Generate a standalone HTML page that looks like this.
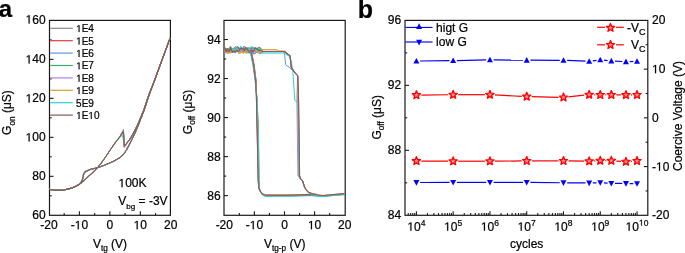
<!DOCTYPE html>
<html><head><meta charset="utf-8"><title>figure</title><style>
html,body{margin:0;padding:0;background:#fff;}
body{width:685px;height:253px;overflow:hidden;}
svg{display:block;font-family:"Liberation Sans", sans-serif;will-change:transform;}
text{fill:#000;stroke:#000;stroke-width:0.22px;}
</style></head><body>
<svg width="685" height="253" viewBox="0 0 685 253" xmlns="http://www.w3.org/2000/svg">
<rect x="49.50" y="20.40" width="120.90" height="194.90" fill="none" stroke="#1a1a1a" stroke-width="1.2"/>
<line x1="64.17" y1="215.30" x2="64.17" y2="213.10" stroke="#1a1a1a" stroke-width="1.1"/>
<line x1="79.40" y1="215.30" x2="79.40" y2="211.30" stroke="#1a1a1a" stroke-width="1.1"/>
<line x1="94.62" y1="215.30" x2="94.62" y2="213.10" stroke="#1a1a1a" stroke-width="1.1"/>
<line x1="109.85" y1="215.30" x2="109.85" y2="211.30" stroke="#1a1a1a" stroke-width="1.1"/>
<line x1="125.07" y1="215.30" x2="125.07" y2="213.10" stroke="#1a1a1a" stroke-width="1.1"/>
<line x1="140.30" y1="215.30" x2="140.30" y2="211.30" stroke="#1a1a1a" stroke-width="1.1"/>
<line x1="155.52" y1="215.30" x2="155.52" y2="213.10" stroke="#1a1a1a" stroke-width="1.1"/>
<line x1="49.50" y1="195.81" x2="51.70" y2="195.81" stroke="#1a1a1a" stroke-width="1.1"/>
<line x1="49.50" y1="176.32" x2="53.50" y2="176.32" stroke="#1a1a1a" stroke-width="1.1"/>
<line x1="49.50" y1="156.83" x2="51.70" y2="156.83" stroke="#1a1a1a" stroke-width="1.1"/>
<line x1="49.50" y1="137.34" x2="53.50" y2="137.34" stroke="#1a1a1a" stroke-width="1.1"/>
<line x1="49.50" y1="117.85" x2="51.70" y2="117.85" stroke="#1a1a1a" stroke-width="1.1"/>
<line x1="49.50" y1="98.36" x2="53.50" y2="98.36" stroke="#1a1a1a" stroke-width="1.1"/>
<line x1="49.50" y1="78.87" x2="51.70" y2="78.87" stroke="#1a1a1a" stroke-width="1.1"/>
<line x1="49.50" y1="59.38" x2="53.50" y2="59.38" stroke="#1a1a1a" stroke-width="1.1"/>
<line x1="49.50" y1="39.89" x2="51.70" y2="39.89" stroke="#1a1a1a" stroke-width="1.1"/>
<text x="48.95" y="229.20" font-size="12" text-anchor="middle" >-20</text>
<text class="n1" x="79.40" y="229.20" font-size="12" text-anchor="middle" >- 0</text>
<text x="109.85" y="229.20" font-size="12" text-anchor="middle" >0</text>
<text class="n1" x="140.30" y="229.20" font-size="12" text-anchor="middle" > 0</text>
<text x="170.75" y="229.20" font-size="12" text-anchor="middle" >20</text>
<text x="45.60" y="219.00" font-size="12" text-anchor="end" >60</text>
<text x="45.60" y="180.42" font-size="12" text-anchor="end" >80</text>
<text class="n1" x="45.60" y="141.44" font-size="12" text-anchor="end" > 00</text>
<text class="n1" x="45.60" y="102.46" font-size="12" text-anchor="end" > 20</text>
<text class="n1" x="45.60" y="63.48" font-size="12" text-anchor="end" > 40</text>
<text class="n1" x="45.60" y="23.50" font-size="12" text-anchor="end" > 60</text>
<rect x="224.00" y="20.40" width="121.20" height="194.90" fill="none" stroke="#1a1a1a" stroke-width="1.2"/>
<line x1="239.35" y1="215.30" x2="239.35" y2="213.10" stroke="#1a1a1a" stroke-width="1.1"/>
<line x1="254.40" y1="215.30" x2="254.40" y2="211.30" stroke="#1a1a1a" stroke-width="1.1"/>
<line x1="269.45" y1="215.30" x2="269.45" y2="213.10" stroke="#1a1a1a" stroke-width="1.1"/>
<line x1="284.50" y1="215.30" x2="284.50" y2="211.30" stroke="#1a1a1a" stroke-width="1.1"/>
<line x1="299.55" y1="215.30" x2="299.55" y2="213.10" stroke="#1a1a1a" stroke-width="1.1"/>
<line x1="314.60" y1="215.30" x2="314.60" y2="211.30" stroke="#1a1a1a" stroke-width="1.1"/>
<line x1="329.65" y1="215.30" x2="329.65" y2="213.10" stroke="#1a1a1a" stroke-width="1.1"/>
<line x1="224.00" y1="195.60" x2="228.00" y2="195.60" stroke="#1a1a1a" stroke-width="1.1"/>
<line x1="224.00" y1="176.09" x2="226.20" y2="176.09" stroke="#1a1a1a" stroke-width="1.1"/>
<line x1="224.00" y1="156.58" x2="228.00" y2="156.58" stroke="#1a1a1a" stroke-width="1.1"/>
<line x1="224.00" y1="137.07" x2="226.20" y2="137.07" stroke="#1a1a1a" stroke-width="1.1"/>
<line x1="224.00" y1="117.56" x2="228.00" y2="117.56" stroke="#1a1a1a" stroke-width="1.1"/>
<line x1="224.00" y1="98.05" x2="226.20" y2="98.05" stroke="#1a1a1a" stroke-width="1.1"/>
<line x1="224.00" y1="78.54" x2="228.00" y2="78.54" stroke="#1a1a1a" stroke-width="1.1"/>
<line x1="224.00" y1="59.03" x2="226.20" y2="59.03" stroke="#1a1a1a" stroke-width="1.1"/>
<line x1="224.00" y1="39.52" x2="228.00" y2="39.52" stroke="#1a1a1a" stroke-width="1.1"/>
<text x="224.30" y="229.20" font-size="12" text-anchor="middle" >-20</text>
<text class="n1" x="254.40" y="229.20" font-size="12" text-anchor="middle" >- 0</text>
<text x="284.50" y="229.20" font-size="12" text-anchor="middle" >0</text>
<text class="n1" x="314.60" y="229.20" font-size="12" text-anchor="middle" > 0</text>
<text x="344.70" y="229.20" font-size="12" text-anchor="middle" >20</text>
<text x="220.60" y="199.70" font-size="12" text-anchor="end" >86</text>
<text x="220.60" y="160.68" font-size="12" text-anchor="end" >88</text>
<text x="220.60" y="121.66" font-size="12" text-anchor="end" >90</text>
<text x="220.60" y="82.64" font-size="12" text-anchor="end" >92</text>
<text x="220.60" y="43.62" font-size="12" text-anchor="end" >94</text>
<rect x="405.00" y="20.40" width="242.80" height="194.90" fill="none" stroke="#1a1a1a" stroke-width="1.2"/>
<line x1="408.24" y1="215.30" x2="408.24" y2="213.10" stroke="#1a1a1a" stroke-width="1.1"/>
<line x1="410.70" y1="215.30" x2="410.70" y2="213.10" stroke="#1a1a1a" stroke-width="1.1"/>
<line x1="412.84" y1="215.30" x2="412.84" y2="213.10" stroke="#1a1a1a" stroke-width="1.1"/>
<line x1="414.72" y1="215.30" x2="414.72" y2="213.10" stroke="#1a1a1a" stroke-width="1.1"/>
<line x1="416.40" y1="215.30" x2="416.40" y2="211.30" stroke="#1a1a1a" stroke-width="1.1"/>
<line x1="427.47" y1="215.30" x2="427.47" y2="213.10" stroke="#1a1a1a" stroke-width="1.1"/>
<line x1="433.94" y1="215.30" x2="433.94" y2="213.10" stroke="#1a1a1a" stroke-width="1.1"/>
<line x1="438.54" y1="215.30" x2="438.54" y2="213.10" stroke="#1a1a1a" stroke-width="1.1"/>
<line x1="442.10" y1="215.30" x2="442.10" y2="213.10" stroke="#1a1a1a" stroke-width="1.1"/>
<line x1="445.01" y1="215.30" x2="445.01" y2="213.10" stroke="#1a1a1a" stroke-width="1.1"/>
<line x1="447.47" y1="215.30" x2="447.47" y2="213.10" stroke="#1a1a1a" stroke-width="1.1"/>
<line x1="449.61" y1="215.30" x2="449.61" y2="213.10" stroke="#1a1a1a" stroke-width="1.1"/>
<line x1="451.49" y1="215.30" x2="451.49" y2="213.10" stroke="#1a1a1a" stroke-width="1.1"/>
<line x1="453.17" y1="215.30" x2="453.17" y2="211.30" stroke="#1a1a1a" stroke-width="1.1"/>
<line x1="464.24" y1="215.30" x2="464.24" y2="213.10" stroke="#1a1a1a" stroke-width="1.1"/>
<line x1="470.71" y1="215.30" x2="470.71" y2="213.10" stroke="#1a1a1a" stroke-width="1.1"/>
<line x1="475.31" y1="215.30" x2="475.31" y2="213.10" stroke="#1a1a1a" stroke-width="1.1"/>
<line x1="478.87" y1="215.30" x2="478.87" y2="213.10" stroke="#1a1a1a" stroke-width="1.1"/>
<line x1="481.78" y1="215.30" x2="481.78" y2="213.10" stroke="#1a1a1a" stroke-width="1.1"/>
<line x1="484.24" y1="215.30" x2="484.24" y2="213.10" stroke="#1a1a1a" stroke-width="1.1"/>
<line x1="486.38" y1="215.30" x2="486.38" y2="213.10" stroke="#1a1a1a" stroke-width="1.1"/>
<line x1="488.26" y1="215.30" x2="488.26" y2="213.10" stroke="#1a1a1a" stroke-width="1.1"/>
<line x1="489.94" y1="215.30" x2="489.94" y2="211.30" stroke="#1a1a1a" stroke-width="1.1"/>
<line x1="501.01" y1="215.30" x2="501.01" y2="213.10" stroke="#1a1a1a" stroke-width="1.1"/>
<line x1="507.48" y1="215.30" x2="507.48" y2="213.10" stroke="#1a1a1a" stroke-width="1.1"/>
<line x1="512.08" y1="215.30" x2="512.08" y2="213.10" stroke="#1a1a1a" stroke-width="1.1"/>
<line x1="515.64" y1="215.30" x2="515.64" y2="213.10" stroke="#1a1a1a" stroke-width="1.1"/>
<line x1="518.55" y1="215.30" x2="518.55" y2="213.10" stroke="#1a1a1a" stroke-width="1.1"/>
<line x1="521.01" y1="215.30" x2="521.01" y2="213.10" stroke="#1a1a1a" stroke-width="1.1"/>
<line x1="523.15" y1="215.30" x2="523.15" y2="213.10" stroke="#1a1a1a" stroke-width="1.1"/>
<line x1="525.03" y1="215.30" x2="525.03" y2="213.10" stroke="#1a1a1a" stroke-width="1.1"/>
<line x1="526.71" y1="215.30" x2="526.71" y2="211.30" stroke="#1a1a1a" stroke-width="1.1"/>
<line x1="537.78" y1="215.30" x2="537.78" y2="213.10" stroke="#1a1a1a" stroke-width="1.1"/>
<line x1="544.25" y1="215.30" x2="544.25" y2="213.10" stroke="#1a1a1a" stroke-width="1.1"/>
<line x1="548.85" y1="215.30" x2="548.85" y2="213.10" stroke="#1a1a1a" stroke-width="1.1"/>
<line x1="552.41" y1="215.30" x2="552.41" y2="213.10" stroke="#1a1a1a" stroke-width="1.1"/>
<line x1="555.32" y1="215.30" x2="555.32" y2="213.10" stroke="#1a1a1a" stroke-width="1.1"/>
<line x1="557.78" y1="215.30" x2="557.78" y2="213.10" stroke="#1a1a1a" stroke-width="1.1"/>
<line x1="559.92" y1="215.30" x2="559.92" y2="213.10" stroke="#1a1a1a" stroke-width="1.1"/>
<line x1="561.80" y1="215.30" x2="561.80" y2="213.10" stroke="#1a1a1a" stroke-width="1.1"/>
<line x1="563.48" y1="215.30" x2="563.48" y2="211.30" stroke="#1a1a1a" stroke-width="1.1"/>
<line x1="574.55" y1="215.30" x2="574.55" y2="213.10" stroke="#1a1a1a" stroke-width="1.1"/>
<line x1="581.02" y1="215.30" x2="581.02" y2="213.10" stroke="#1a1a1a" stroke-width="1.1"/>
<line x1="585.62" y1="215.30" x2="585.62" y2="213.10" stroke="#1a1a1a" stroke-width="1.1"/>
<line x1="589.18" y1="215.30" x2="589.18" y2="213.10" stroke="#1a1a1a" stroke-width="1.1"/>
<line x1="592.09" y1="215.30" x2="592.09" y2="213.10" stroke="#1a1a1a" stroke-width="1.1"/>
<line x1="594.55" y1="215.30" x2="594.55" y2="213.10" stroke="#1a1a1a" stroke-width="1.1"/>
<line x1="596.69" y1="215.30" x2="596.69" y2="213.10" stroke="#1a1a1a" stroke-width="1.1"/>
<line x1="598.57" y1="215.30" x2="598.57" y2="213.10" stroke="#1a1a1a" stroke-width="1.1"/>
<line x1="600.25" y1="215.30" x2="600.25" y2="211.30" stroke="#1a1a1a" stroke-width="1.1"/>
<line x1="611.32" y1="215.30" x2="611.32" y2="213.10" stroke="#1a1a1a" stroke-width="1.1"/>
<line x1="617.79" y1="215.30" x2="617.79" y2="213.10" stroke="#1a1a1a" stroke-width="1.1"/>
<line x1="622.39" y1="215.30" x2="622.39" y2="213.10" stroke="#1a1a1a" stroke-width="1.1"/>
<line x1="625.95" y1="215.30" x2="625.95" y2="213.10" stroke="#1a1a1a" stroke-width="1.1"/>
<line x1="628.86" y1="215.30" x2="628.86" y2="213.10" stroke="#1a1a1a" stroke-width="1.1"/>
<line x1="631.32" y1="215.30" x2="631.32" y2="213.10" stroke="#1a1a1a" stroke-width="1.1"/>
<line x1="633.46" y1="215.30" x2="633.46" y2="213.10" stroke="#1a1a1a" stroke-width="1.1"/>
<line x1="635.34" y1="215.30" x2="635.34" y2="213.10" stroke="#1a1a1a" stroke-width="1.1"/>
<line x1="637.02" y1="215.30" x2="637.02" y2="211.30" stroke="#1a1a1a" stroke-width="1.1"/>
<line x1="405.00" y1="182.82" x2="407.20" y2="182.82" stroke="#1a1a1a" stroke-width="1.1"/>
<line x1="405.00" y1="150.33" x2="409.00" y2="150.33" stroke="#1a1a1a" stroke-width="1.1"/>
<line x1="405.00" y1="117.85" x2="407.20" y2="117.85" stroke="#1a1a1a" stroke-width="1.1"/>
<line x1="405.00" y1="85.37" x2="409.00" y2="85.37" stroke="#1a1a1a" stroke-width="1.1"/>
<line x1="405.00" y1="52.88" x2="407.20" y2="52.88" stroke="#1a1a1a" stroke-width="1.1"/>
<line x1="647.80" y1="190.94" x2="645.60" y2="190.94" stroke="#1a1a1a" stroke-width="1.1"/>
<line x1="647.80" y1="166.58" x2="643.80" y2="166.58" stroke="#1a1a1a" stroke-width="1.1"/>
<line x1="647.80" y1="142.21" x2="645.60" y2="142.21" stroke="#1a1a1a" stroke-width="1.1"/>
<line x1="647.80" y1="117.85" x2="643.80" y2="117.85" stroke="#1a1a1a" stroke-width="1.1"/>
<line x1="647.80" y1="93.49" x2="645.60" y2="93.49" stroke="#1a1a1a" stroke-width="1.1"/>
<line x1="647.80" y1="69.12" x2="643.80" y2="69.12" stroke="#1a1a1a" stroke-width="1.1"/>
<line x1="647.80" y1="44.76" x2="645.60" y2="44.76" stroke="#1a1a1a" stroke-width="1.1"/>
<text x="401.20" y="219.00" font-size="12" text-anchor="end" >84</text>
<text x="401.20" y="154.43" font-size="12" text-anchor="end" >88</text>
<text x="401.20" y="89.47" font-size="12" text-anchor="end" >92</text>
<text x="401.20" y="23.60" font-size="12" text-anchor="end" >96</text>
<text x="652.00" y="218.90" font-size="12" text-anchor="start" >-20</text>
<text class="n1" x="652.00" y="170.68" font-size="12" text-anchor="start" >- 0</text>
<text x="652.00" y="121.95" font-size="12" text-anchor="start" >0</text>
<text class="n1" x="652.00" y="73.22" font-size="12" text-anchor="start" > 0</text>
<text x="652.00" y="23.50" font-size="12" text-anchor="start" >20</text>
<text class="n1" x="416.40" y="230.70" font-size="12" text-anchor="middle"> 0<tspan font-size="8.5" dy="-5">4</tspan></text>
<text class="n1" x="453.17" y="230.70" font-size="12" text-anchor="middle"> 0<tspan font-size="8.5" dy="-5">5</tspan></text>
<text class="n1" x="489.94" y="230.70" font-size="12" text-anchor="middle"> 0<tspan font-size="8.5" dy="-5">6</tspan></text>
<text class="n1" x="526.71" y="230.70" font-size="12" text-anchor="middle"> 0<tspan font-size="8.5" dy="-5">7</tspan></text>
<text class="n1" x="563.48" y="230.70" font-size="12" text-anchor="middle"> 0<tspan font-size="8.5" dy="-5">8</tspan></text>
<text class="n1" x="600.25" y="230.70" font-size="12" text-anchor="middle"> 0<tspan font-size="8.5" dy="-5">9</tspan></text>
<text class="n1" x="637.02" y="230.70" font-size="12" text-anchor="middle"> 0<tspan font-size="8.5" dy="-5"> 0</tspan></text>
<text x="-1.2" y="17.0" font-size="24" font-weight="bold">a</text>
<text x="357.7" y="17.8" font-size="25" font-weight="bold">b</text>
<text transform="translate(11.40,134.90) rotate(-90)" font-size="12">G<tspan font-size="8.2" dy="3.3">on</tspan><tspan dy="-3.3"> (μS)</tspan></text>
<text transform="translate(191.60,134.20) rotate(-90)" font-size="12">G<tspan font-size="8.2" dy="3.3">off</tspan><tspan dy="-3.3"> (μS)</tspan></text>
<text transform="translate(380.70,139.60) rotate(-90)" font-size="12">G<tspan font-size="8.2" dy="3.3">off</tspan><tspan dy="-3.3"> (μS)</tspan></text>
<text transform="translate(682.4,171.0) rotate(-90)" font-size="12">Coercive Voltage (V)</text>
<text x="92.9" y="247.9" font-size="12">V<tspan font-size="8.2" dy="3.2">tg</tspan><tspan dy="-3.2"> (V)</tspan></text>
<text x="264.0" y="247.9" font-size="12">V<tspan font-size="8.2" dy="3.4">tg-p</tspan><tspan dy="-3.4"> (V)</tspan></text>
<text x="526.70" y="248.00" font-size="12" text-anchor="middle" >cycles</text>
<text class="n1" x="118.50" y="187.20" font-size="12" text-anchor="start" > 00K</text>
<text x="118.2" y="204.9" font-size="12">V<tspan font-size="8.1" dy="4.0">bg</tspan><tspan dy="-4.0"> = -3V</tspan></text>
<line x1="50.20" y1="28.30" x2="72.80" y2="28.30" stroke="#8a8a8a" stroke-width="1.2"/>
<text class="n1" x="76.10" y="32.10" font-size="10" text-anchor="start" > E4</text>
<line x1="50.20" y1="40.70" x2="72.80" y2="40.70" stroke="#e8383c" stroke-width="1.2"/>
<text class="n1" x="76.10" y="44.50" font-size="10" text-anchor="start" > E5</text>
<line x1="50.20" y1="53.10" x2="72.80" y2="53.10" stroke="#5a96ea" stroke-width="1.2"/>
<text class="n1" x="76.10" y="56.90" font-size="10" text-anchor="start" > E6</text>
<line x1="50.20" y1="65.50" x2="72.80" y2="65.50" stroke="#3aac64" stroke-width="1.2"/>
<text class="n1" x="76.10" y="69.30" font-size="10" text-anchor="start" > E7</text>
<line x1="50.20" y1="77.90" x2="72.80" y2="77.90" stroke="#b47cf0" stroke-width="1.2"/>
<text class="n1" x="76.10" y="81.70" font-size="10" text-anchor="start" > E8</text>
<line x1="50.20" y1="90.30" x2="72.80" y2="90.30" stroke="#d4a22a" stroke-width="1.2"/>
<text class="n1" x="76.10" y="94.10" font-size="10" text-anchor="start" > E9</text>
<line x1="50.20" y1="102.70" x2="72.80" y2="102.70" stroke="#2ed2d2" stroke-width="1.2"/>
<text x="76.10" y="106.50" font-size="10" text-anchor="start" >5E9</text>
<line x1="50.20" y1="115.10" x2="72.80" y2="115.10" stroke="#8b5a56" stroke-width="1.2"/>
<text class="n1" x="76.10" y="118.90" font-size="10" text-anchor="start" > E 0</text>
<polyline points="49.50,189.40 52.00,189.80 55.00,190.00 58.00,190.20 61.00,190.20 65.00,189.70 70.00,188.60 75.00,186.70 78.00,185.00 80.90,182.60 82.70,179.00 83.90,173.40 85.70,171.50 90.40,169.40 95.10,168.30 97.50,167.70 103.00,165.80 108.80,163.40 114.00,161.00 118.00,158.70 120.50,157.20 122.70,155.20 124.80,152.50 126.40,150.00 128.90,145.50 131.70,140.00 135.20,132.50 138.30,125.20 144.20,110.00 149.10,95.00 154.80,80.00 160.30,64.80 165.20,51.30 170.10,38.00" fill="none" stroke="#8a8a8a" stroke-width="1.0" stroke-linejoin="round" />
<polyline points="49.50,189.40 52.00,189.80 55.00,190.00 58.00,190.20 61.00,190.20 65.00,189.70 70.00,188.60 75.00,186.70 78.00,185.00 80.90,182.60 82.70,179.00 83.90,173.40 85.70,171.50 90.40,169.40 95.10,168.30 97.50,167.70 103.00,165.80 108.80,163.40 114.00,161.00 118.00,158.70 120.50,157.20 122.70,155.20 124.80,152.50 126.40,150.00 128.90,145.50 131.70,140.00 135.20,132.50 138.30,125.20 144.20,110.00 149.10,95.00 154.80,80.00 160.30,64.80 165.20,51.30 170.10,38.00" fill="none" stroke="#e8383c" stroke-width="1.0" stroke-linejoin="round" />
<polyline points="49.50,189.40 52.00,189.80 55.00,190.00 58.00,190.20 61.00,190.20 65.00,189.70 70.00,188.60 75.00,186.70 78.00,185.00 80.90,182.60 82.70,179.00 83.70,172.70 85.60,170.80 90.40,169.40 95.10,168.30 97.50,167.70 103.00,165.80 108.80,163.40 114.00,161.00 118.00,158.70 120.50,157.20 122.70,155.20 124.80,152.50 126.40,150.00 128.90,145.50 131.70,140.00 135.20,132.50 138.30,125.20 144.20,110.00 149.10,95.00 154.80,80.00 160.30,64.80 165.20,51.30 170.10,38.00" fill="none" stroke="#5a96ea" stroke-width="1.0" stroke-linejoin="round" />
<polyline points="49.50,189.40 52.00,189.80 55.00,190.00 58.00,190.20 61.00,190.20 65.00,189.70 70.00,188.60 75.00,186.70 78.00,185.00 80.90,182.60 82.70,179.00 83.90,173.40 85.70,171.50 90.40,169.40 95.10,168.30 97.50,167.70 103.00,165.80 108.80,163.40 114.00,161.00 118.00,158.70 120.50,157.20 122.70,155.20 124.80,152.50 126.40,150.00 128.90,145.50 131.70,140.00 135.20,132.50 138.30,125.20 144.20,110.00 149.10,95.00 154.80,80.00 160.30,64.80 165.20,51.30 170.10,38.00" fill="none" stroke="#3aac64" stroke-width="1.0" stroke-linejoin="round" />
<polyline points="49.50,189.40 52.00,189.80 55.00,190.00 58.00,190.20 61.00,190.20 65.00,189.70 70.00,188.60 75.00,186.70 78.00,185.00 80.90,182.60 82.70,179.00 83.90,173.40 85.70,171.50 90.40,169.40 95.10,168.30 97.50,167.70 103.00,165.80 108.80,163.40 114.00,161.00 118.00,158.70 120.50,157.20 122.70,155.20 124.80,152.50 126.40,150.00 128.90,145.50 131.70,140.00 135.20,132.50 138.30,125.20 144.20,110.00 149.10,95.00 154.80,80.00 160.30,64.80 165.20,51.30 170.10,38.00" fill="none" stroke="#b47cf0" stroke-width="1.0" stroke-linejoin="round" />
<polyline points="49.50,189.40 52.00,189.80 55.00,190.00 58.00,190.20 61.00,190.20 65.00,189.70 70.00,188.60 75.00,186.70 78.00,185.00 80.90,182.60 82.70,179.00 83.90,173.40 85.70,171.50 90.40,169.40 95.10,168.30 97.50,167.70 103.00,165.80 108.80,163.40 114.00,161.00 118.00,158.70 120.50,157.20 122.70,155.20 124.80,152.50 126.40,150.00 128.90,145.50 131.70,140.00 135.20,132.50 138.30,125.20 144.20,110.00 149.10,95.00 154.80,80.00 160.30,64.80 165.20,51.30 170.10,38.00" fill="none" stroke="#d4a22a" stroke-width="1.0" stroke-linejoin="round" />
<polyline points="49.50,189.40 52.00,189.80 55.00,190.00 58.00,190.20 61.00,190.20 65.00,189.70 70.00,188.60 75.00,186.70 78.00,185.00 80.90,182.60 82.20,179.20 83.30,173.80 85.70,171.50 90.40,169.40 95.10,168.30 97.50,167.70 103.00,165.80 108.80,163.40 114.00,161.00 118.00,158.70 120.50,157.20 122.70,155.20 124.80,152.50 126.40,150.00 128.90,145.50 131.70,140.00 135.20,132.50 138.30,125.20 144.20,110.00 149.10,95.00 154.80,80.00 160.30,64.80 165.20,51.30 170.10,38.00" fill="none" stroke="#2ed2d2" stroke-width="1.0" stroke-linejoin="round" />
<polyline points="49.50,189.40 52.00,189.80 55.00,190.00 58.00,190.20 61.00,190.20 65.00,189.70 70.00,188.60 75.00,186.70 78.00,185.20 80.90,183.20 83.50,181.00 86.80,177.80 92.80,172.50 97.50,167.70 100.00,164.70 105.00,157.80 110.00,150.20 113.40,145.30 116.50,141.00 119.50,137.30 123.40,130.80 124.30,146.20 129.40,140.00 133.60,132.80 137.50,125.20 143.80,110.00 148.80,95.00 154.60,80.00 160.20,64.80 165.20,51.30 170.10,38.00" fill="none" stroke="#8a8a8a" stroke-width="1.0" stroke-linejoin="round" />
<polyline points="49.50,189.40 52.00,189.80 55.00,190.00 58.00,190.20 61.00,190.20 65.00,189.70 70.00,188.60 75.00,186.70 78.00,185.20 80.90,183.20 83.50,181.00 86.80,177.80 92.80,172.50 97.50,167.70 100.00,164.70 105.00,157.80 110.00,150.20 113.40,145.30 116.50,141.00 119.50,137.30 123.40,130.80 124.30,146.20 129.40,140.00 133.60,132.80 137.50,125.20 143.80,110.00 148.80,95.00 154.60,80.00 160.20,64.80 165.20,51.30 170.10,38.00" fill="none" stroke="#e8383c" stroke-width="1.0" stroke-linejoin="round" />
<polyline points="49.50,189.40 52.00,189.80 55.00,190.00 58.00,190.20 61.00,190.20 65.00,189.70 70.00,188.60 75.00,186.70 78.00,185.20 80.90,183.20 83.50,181.00 86.80,177.80 92.80,172.50 97.50,167.70 100.00,164.70 105.00,157.80 110.00,150.20 113.40,145.30 116.50,141.00 119.50,137.30 123.50,129.30 124.30,146.20 129.40,140.00 133.60,132.80 137.50,125.20 143.80,110.00 148.80,95.00 154.60,80.00 160.20,64.80 165.20,51.30 170.10,38.00" fill="none" stroke="#5a96ea" stroke-width="1.0" stroke-linejoin="round" />
<polyline points="49.50,189.40 52.00,189.80 55.00,190.00 58.00,190.20 61.00,190.20 65.00,189.70 70.00,188.60 75.00,186.70 78.00,185.20 80.90,183.20 83.50,181.00 86.80,177.80 92.80,172.50 97.50,167.70 100.00,164.70 105.00,157.80 110.00,150.20 113.40,145.30 116.50,141.00 119.50,137.30 123.40,130.80 124.30,146.20 129.40,140.00 133.60,132.80 137.50,125.20 143.80,110.00 148.80,95.00 154.60,80.00 160.20,64.80 165.20,51.30 170.10,38.00" fill="none" stroke="#3aac64" stroke-width="1.0" stroke-linejoin="round" />
<polyline points="49.50,189.40 52.00,189.80 55.00,190.00 58.00,190.20 61.00,190.20 65.00,189.70 70.00,188.60 75.00,186.70 78.00,185.20 80.90,183.20 83.50,181.00 86.80,177.80 92.80,172.50 97.50,167.70 100.00,164.70 105.00,157.80 110.00,150.20 113.40,145.30 116.50,141.00 119.50,137.30 123.50,133.00 124.20,147.60 129.40,140.00 133.60,132.80 137.50,125.20 143.80,110.00 148.80,95.00 154.60,80.00 160.20,64.80 165.20,51.30 170.10,38.00" fill="none" stroke="#b47cf0" stroke-width="1.0" stroke-linejoin="round" />
<polyline points="49.50,189.40 52.00,189.80 55.00,190.00 58.00,190.20 61.00,190.20 65.00,189.70 70.00,188.60 75.00,186.70 78.00,185.20 80.90,183.20 83.50,181.00 86.80,177.80 92.80,172.50 97.50,167.70 100.00,164.70 105.00,157.80 110.00,150.20 113.40,145.30 116.50,141.00 119.50,137.30 123.40,130.80 124.30,146.20 129.40,140.00 133.60,132.80 137.50,125.20 143.80,110.00 148.80,95.00 154.60,80.00 160.20,64.80 165.20,51.30 170.10,38.00" fill="none" stroke="#d4a22a" stroke-width="1.0" stroke-linejoin="round" />
<polyline points="49.50,189.40 52.00,189.80 55.00,190.00 58.00,190.20 61.00,190.20 65.00,189.70 70.00,188.60 75.00,186.70 78.00,185.20 80.90,183.20 83.50,181.00 86.80,177.80 92.80,172.50 97.50,167.70 100.00,164.70 105.00,157.80 110.00,150.20 113.40,145.30 116.50,141.00 119.00,137.60 122.60,135.50 124.30,146.20 129.40,140.00 133.60,132.80 137.50,125.20 143.80,110.00 148.80,95.00 154.60,80.00 160.20,64.80 165.20,51.30 170.10,38.00" fill="none" stroke="#2ed2d2" stroke-width="1.0" stroke-linejoin="round" />
<polyline points="49.50,189.40 52.00,189.80 55.00,190.00 58.00,190.20 61.00,190.20 65.00,189.70 70.00,188.60 75.00,186.70 78.00,185.00 80.90,182.60 82.70,179.00 83.90,173.40 85.70,171.50 90.40,169.40 95.10,168.30 97.50,167.70 103.00,165.80 108.80,163.40 114.00,161.00 118.00,158.70 120.50,157.20 122.70,155.20 124.80,152.50 126.40,150.00 128.90,145.50 131.70,140.00 135.20,132.50 138.30,125.20 144.20,110.00 149.10,95.00 154.80,80.00 160.30,64.80 165.20,51.30 170.10,38.00" fill="none" stroke="#8b5a56" stroke-width="1.1" stroke-linejoin="round" />
<polyline points="49.50,189.40 52.00,189.80 55.00,190.00 58.00,190.20 61.00,190.20 65.00,189.70 70.00,188.60 75.00,186.70 78.00,185.20 80.90,183.20 83.50,181.00 86.80,177.80 92.80,172.50 97.50,167.70 100.00,164.70 105.00,157.80 110.00,150.20 113.40,145.30 116.50,141.00 119.50,137.30 123.30,131.60 124.30,146.20 129.40,140.00 133.60,132.80 137.50,125.20 143.80,110.00 148.80,95.00 154.60,80.00 160.20,64.80 165.20,51.30 170.10,38.00" fill="none" stroke="#8b5a56" stroke-width="1.1" stroke-linejoin="round" />
<polyline points="224.60,49.09 226.39,49.78 228.42,49.56 230.43,46.72 231.89,50.37 233.57,50.20 234.60,48.48 235.80,48.78 237.39,46.65 238.55,47.72 240.55,49.66 241.64,49.79 242.70,49.07 243.76,46.61 245.70,47.44 246.86,50.53 248.81,47.76 250.86,48.76 252.57,47.42 254.60,49.36 256.66,50.17 257.92,48.04 259.02,47.18 260.00,47.81 262.50,51.40" fill="none" stroke="#8a8a8a" stroke-width="1.25" stroke-linejoin="round" />
<polyline points="224.60,47.62 226.31,49.22 227.59,51.53 229.06,49.12 230.54,50.98 231.51,52.28 232.44,51.20 234.35,47.69 236.19,49.36 237.79,47.64 238.75,48.47 240.79,48.54 242.60,52.06 244.63,49.25 245.95,50.12 247.79,48.12 249.58,51.43 251.51,47.78 253.55,48.04 254.86,50.53 256.86,49.23 258.87,50.22 260.14,49.12 262.50,51.50" fill="none" stroke="#e8383c" stroke-width="1.25" stroke-linejoin="round" />
<polyline points="224.60,48.28 225.68,51.21 227.77,48.68 228.73,52.64 230.27,49.85 231.46,50.75 233.35,50.09 234.76,48.17 236.75,48.06 238.25,51.92 239.30,51.41 241.34,50.93 243.19,48.41 244.61,48.62 246.52,49.32 247.97,52.70 249.89,52.58 251.34,50.24 253.11,50.20 254.36,49.84 255.44,49.71 257.52,52.51 259.17,50.30 260.48,48.33 262.50,51.50" fill="none" stroke="#3aac64" stroke-width="1.25" stroke-linejoin="round" />
<polyline points="224.60,52.95 226.54,50.93 228.38,52.92 230.12,52.39 231.93,50.94 233.67,50.55 235.16,52.89 236.89,50.61 238.92,52.32 240.52,49.26 242.07,50.40 243.78,51.42 245.66,52.31 247.52,50.87 249.19,52.74 251.08,50.88 253.00,53.38 254.72,53.89 256.77,51.69 258.30,50.00 260.21,53.70 262.50,51.80" fill="none" stroke="#5a96ea" stroke-width="1.25" stroke-linejoin="round" />
<polyline points="224.60,52.32 226.36,52.51 227.47,52.75 229.07,52.19 230.47,51.99 232.30,52.06 234.07,49.13 235.16,51.12 236.84,50.05 238.56,52.03 239.51,51.26 240.68,49.26 241.74,50.52 242.86,49.93 243.80,51.23 245.16,51.94 246.77,50.14 248.75,49.00 250.14,50.34 251.53,49.55 253.43,50.79 254.37,51.95 255.39,51.62 256.69,51.79 258.74,52.93 260.15,52.90 262.50,51.40" fill="none" stroke="#b47cf0" stroke-width="1.25" stroke-linejoin="round" />
<polyline points="224.60,50.37 225.67,51.46 227.25,53.19 229.31,51.52 230.63,52.89 231.53,49.12 233.11,51.55 234.18,51.62 236.15,50.40 237.57,49.69 238.82,53.27 240.17,53.21 242.17,51.46 243.38,53.31 244.88,50.59 246.16,53.32 247.65,49.97 249.12,49.19 250.77,50.73 252.02,52.35 253.91,48.66 255.45,49.91 257.47,52.35 258.67,49.88 259.75,53.35 262.50,49.60" fill="none" stroke="#d4a22a" stroke-width="1.25" stroke-linejoin="round" />
<polyline points="224.60,49.56 226.07,49.75 227.69,50.27 228.74,50.35 230.00,49.17 231.30,47.94 232.84,48.81 234.17,50.27 235.78,46.59 236.98,48.77 238.98,51.02 240.54,46.48 242.37,48.62 243.96,50.08 245.62,48.91 247.61,48.40 248.98,50.83 250.12,47.94 252.02,46.74 253.92,50.01 255.34,47.89 257.18,51.14 258.25,48.89 259.81,48.99 262.50,53.10" fill="none" stroke="#2ed2d2" stroke-width="1.25" stroke-linejoin="round" />
<polyline points="224.60,48.27 226.20,51.56 227.19,48.65 229.07,51.46 230.76,47.63 232.53,52.39 234.63,51.01 235.59,51.71 236.75,50.73 238.79,51.06 239.86,48.96 241.86,48.25 243.49,49.57 244.58,50.61 245.54,48.04 246.89,47.86 247.86,50.38 249.65,51.89 250.71,49.66 251.99,50.50 253.48,52.19 254.83,47.78 256.56,48.26 258.22,50.03 260.21,50.27 262.50,51.50" fill="none" stroke="#8b5a56" stroke-width="1.25" stroke-linejoin="round" />
<polyline points="250.70,48.60 251.30,53.00 253.70,65.00 255.68,80.00 256.80,100.00 257.60,125.00 258.00,140.00 258.60,180.00 259.20,188.50 260.60,191.90 262.30,194.20 265.00,195.50 290.00,195.50 311.00,195.00 323.00,195.90 344.50,194.00" fill="none" stroke="#8a8a8a" stroke-width="1.0" stroke-linejoin="round" />
<polyline points="251.20,50.00 251.80,53.00 254.20,65.00 256.08,80.00 256.45,100.00 256.90,125.00 257.30,140.00 258.11,180.00 258.85,188.50 260.60,191.85 262.30,194.10 265.00,195.40 290.00,195.40 311.00,194.90 323.00,195.80 344.50,193.90" fill="none" stroke="#e8383c" stroke-width="1.0" stroke-linejoin="round" />
<polyline points="250.20,51.60 250.80,53.00 253.20,65.00 255.28,80.00 257.00,100.00 258.00,125.00 258.40,140.00 258.88,180.00 259.40,188.50 260.60,192.15 262.30,194.70 265.00,196.00 290.00,196.00 311.00,195.50 323.00,196.40 344.50,194.50" fill="none" stroke="#5a96ea" stroke-width="1.0" stroke-linejoin="round" />
<polyline points="250.40,50.30 251.00,53.00 253.40,65.00 255.44,80.00 257.05,100.00 258.10,125.00 258.50,140.00 258.95,180.00 259.45,188.50 260.60,192.05 262.30,194.50 265.00,195.80 290.00,195.80 311.00,195.30 323.00,196.20 344.50,194.30" fill="none" stroke="#3aac64" stroke-width="1.0" stroke-linejoin="round" />
<polyline points="250.90,51.40 251.50,53.00 253.90,65.00 255.84,80.00 256.70,100.00 257.40,125.00 257.80,140.00 258.46,180.00 259.10,188.50 260.60,191.95 262.30,194.30 265.00,195.60 290.00,195.60 311.00,195.10 323.00,196.00 344.50,194.10" fill="none" stroke="#b47cf0" stroke-width="1.0" stroke-linejoin="round" />
<polyline points="250.80,51.00 251.40,53.00 253.80,65.00 255.76,80.00 256.85,100.00 257.70,125.00 258.10,140.00 258.67,180.00 259.25,188.50 260.60,191.65 262.30,193.70 265.00,195.00 290.00,195.00 311.00,194.50 323.00,195.40 344.50,193.50" fill="none" stroke="#d4a22a" stroke-width="1.0" stroke-linejoin="round" />
<polyline points="249.90,49.00 250.50,53.00 252.90,65.00 255.04,80.00 257.10,100.00 258.20,125.00 258.60,140.00 259.02,180.00 259.50,188.50 260.60,192.20 262.30,194.80 265.00,196.10 290.00,196.10 311.00,195.60 323.00,196.50 344.50,194.60" fill="none" stroke="#2ed2d2" stroke-width="1.0" stroke-linejoin="round" />
<polyline points="250.60,50.00 251.20,53.00 253.60,65.00 255.60,80.00 256.50,100.00 257.00,125.00 257.40,140.00 258.18,180.00 258.90,188.50 260.60,191.70 262.30,193.80 265.00,195.10 290.00,195.10 311.00,194.60 323.00,195.50 344.50,193.60" fill="none" stroke="#8b5a56" stroke-width="1.1" stroke-linejoin="round" />
<polyline points="261.50,51.40 284.50,51.40 288.00,54.30 290.00,55.80 291.40,67.60 295.00,72.90 297.60,75.60 298.00,100.00 299.00,175.60 300.30,178.50 302.60,181.00 304.40,186.50 306.30,190.20 308.80,192.70 312.80,194.16 318.00,195.20" fill="none" stroke="#8a8a8a" stroke-width="1.0" stroke-linejoin="round" />
<polyline points="261.50,51.50 284.50,51.50 288.00,54.30 290.00,55.80 291.40,67.60 295.00,72.90 297.60,75.60 298.50,100.00 299.50,175.60 300.55,178.50 302.60,181.00 304.40,186.50 306.30,190.20 308.80,192.65 312.80,194.08 318.00,195.10" fill="none" stroke="#e8383c" stroke-width="1.0" stroke-linejoin="round" />
<polyline points="261.50,51.80 284.30,51.80 285.70,64.90 289.70,67.60 295.00,72.90 298.00,75.80 298.25,110.00 299.10,175.60 300.35,178.50 302.60,181.00 304.40,186.50 306.30,190.20 308.80,192.95 312.80,194.56 318.00,195.70" fill="none" stroke="#5a96ea" stroke-width="1.0" stroke-linejoin="round" />
<polyline points="261.50,51.50 284.50,51.50 288.00,54.30 290.00,55.80 291.40,67.60 295.00,72.90 297.60,75.60 298.30,100.00 299.30,175.60 300.45,178.50 302.60,181.00 304.40,186.50 306.30,190.20 308.80,192.85 312.80,194.40 318.00,195.50" fill="none" stroke="#3aac64" stroke-width="1.0" stroke-linejoin="round" />
<polyline points="261.50,51.40 284.50,51.40 288.00,54.30 290.00,55.80 291.40,67.60 295.00,72.90 297.60,75.60 296.90,100.00 297.90,175.60 299.75,178.50 302.60,181.00 304.40,186.50 306.30,190.20 308.80,192.75 312.80,194.24 318.00,195.30" fill="none" stroke="#b47cf0" stroke-width="1.0" stroke-linejoin="round" />
<polyline points="261.50,49.60 277.00,49.60 278.20,51.10 284.90,51.10 287.80,54.00 290.00,55.80 291.40,67.60 295.00,72.90 297.60,75.60 297.80,100.00 298.80,175.60 300.20,178.50 302.60,181.00 304.40,186.50 306.30,190.20 308.80,192.45 312.80,193.76 318.00,194.70" fill="none" stroke="#d4a22a" stroke-width="1.0" stroke-linejoin="round" />
<polyline points="261.50,53.10 284.10,53.10 289.50,56.50 291.20,60.50 292.80,70.80 294.80,100.40 297.50,102.40 298.15,110.00 299.00,175.60 300.30,178.50 302.60,181.00 304.40,186.50 306.30,190.20 308.80,193.00 312.80,194.64 318.00,195.80" fill="none" stroke="#2ed2d2" stroke-width="1.0" stroke-linejoin="round" />
<polyline points="261.50,51.50 284.50,51.50 288.00,54.30 290.00,55.80 291.40,67.60 295.00,72.90 297.60,75.60 298.60,100.00 299.60,175.60 300.60,178.50 302.60,181.00 304.40,186.50 306.30,190.20 308.80,192.50 312.80,193.84 318.00,194.80" fill="none" stroke="#8b5a56" stroke-width="1.1" stroke-linejoin="round" />
<line x1="420.10" y1="61.00" x2="449.47" y2="60.65" stroke="#0000ff" stroke-width="1.2"/>
<line x1="456.87" y1="60.53" x2="486.24" y2="59.97" stroke="#0000ff" stroke-width="1.2"/>
<line x1="493.64" y1="59.93" x2="523.01" y2="60.17" stroke="#0000ff" stroke-width="1.2"/>
<line x1="530.41" y1="60.21" x2="559.78" y2="60.29" stroke="#0000ff" stroke-width="1.2"/>
<line x1="567.18" y1="60.44" x2="585.48" y2="61.16" stroke="#0000ff" stroke-width="1.2"/>
<line x1="592.85" y1="60.80" x2="596.58" y2="60.30" stroke="#0000ff" stroke-width="1.2"/>
<line x1="603.93" y1="60.20" x2="607.64" y2="60.60" stroke="#0000ff" stroke-width="1.2"/>
<line x1="615.01" y1="61.18" x2="622.26" y2="61.52" stroke="#0000ff" stroke-width="1.2"/>
<line x1="629.65" y1="61.57" x2="633.32" y2="61.43" stroke="#0000ff" stroke-width="1.2"/>
<line x1="420.10" y1="182.49" x2="449.47" y2="182.41" stroke="#0000ff" stroke-width="1.2"/>
<line x1="456.87" y1="182.40" x2="486.24" y2="182.40" stroke="#0000ff" stroke-width="1.2"/>
<line x1="493.64" y1="182.40" x2="523.01" y2="182.40" stroke="#0000ff" stroke-width="1.2"/>
<line x1="530.41" y1="182.44" x2="559.78" y2="182.76" stroke="#0000ff" stroke-width="1.2"/>
<line x1="567.18" y1="182.83" x2="585.48" y2="182.97" stroke="#0000ff" stroke-width="1.2"/>
<line x1="592.88" y1="182.90" x2="596.55" y2="182.80" stroke="#0000ff" stroke-width="1.2"/>
<line x1="603.94" y1="182.93" x2="607.63" y2="183.17" stroke="#0000ff" stroke-width="1.2"/>
<line x1="615.02" y1="183.43" x2="622.25" y2="183.47" stroke="#0000ff" stroke-width="1.2"/>
<line x1="629.65" y1="183.57" x2="633.32" y2="183.63" stroke="#0000ff" stroke-width="1.2"/>
<line x1="421.40" y1="95.05" x2="448.17" y2="94.75" stroke="#ff0000" stroke-width="1.2"/>
<line x1="458.17" y1="94.70" x2="484.94" y2="94.70" stroke="#ff0000" stroke-width="1.2"/>
<line x1="494.93" y1="94.96" x2="521.72" y2="96.34" stroke="#ff0000" stroke-width="1.2"/>
<line x1="531.71" y1="96.71" x2="558.48" y2="97.29" stroke="#ff0000" stroke-width="1.2"/>
<line x1="568.45" y1="96.88" x2="584.21" y2="95.22" stroke="#ff0000" stroke-width="1.2"/>
<line x1="594.18" y1="94.79" x2="595.25" y2="94.81" stroke="#ff0000" stroke-width="1.2"/>
<line x1="605.25" y1="94.90" x2="606.32" y2="94.90" stroke="#ff0000" stroke-width="1.2"/>
<line x1="616.32" y1="94.93" x2="620.95" y2="94.97" stroke="#ff0000" stroke-width="1.2"/>
<line x1="630.95" y1="94.95" x2="632.02" y2="94.95" stroke="#ff0000" stroke-width="1.2"/>
<line x1="421.40" y1="161.03" x2="448.17" y2="161.17" stroke="#ff0000" stroke-width="1.2"/>
<line x1="458.17" y1="161.20" x2="484.94" y2="161.20" stroke="#ff0000" stroke-width="1.2"/>
<line x1="494.94" y1="161.16" x2="521.71" y2="160.94" stroke="#ff0000" stroke-width="1.2"/>
<line x1="531.71" y1="160.90" x2="558.48" y2="160.90" stroke="#ff0000" stroke-width="1.2"/>
<line x1="568.48" y1="160.96" x2="584.18" y2="161.14" stroke="#ff0000" stroke-width="1.2"/>
<line x1="594.18" y1="160.97" x2="595.26" y2="160.93" stroke="#ff0000" stroke-width="1.2"/>
<line x1="605.25" y1="160.70" x2="606.32" y2="160.70" stroke="#ff0000" stroke-width="1.2"/>
<line x1="616.31" y1="161.04" x2="620.96" y2="161.36" stroke="#ff0000" stroke-width="1.2"/>
<line x1="630.94" y1="161.34" x2="632.03" y2="161.26" stroke="#ff0000" stroke-width="1.2"/>
<polygon points="413.40,63.50 419.40,63.50 416.40,57.90" fill="#0000ff"/>
<polygon points="450.17,63.05 456.17,63.05 453.17,57.45" fill="#0000ff"/>
<polygon points="486.94,62.35 492.94,62.35 489.94,56.75" fill="#0000ff"/>
<polygon points="523.71,62.65 529.71,62.65 526.71,57.05" fill="#0000ff"/>
<polygon points="560.48,62.75 566.48,62.75 563.48,57.15" fill="#0000ff"/>
<polygon points="586.18,63.75 592.18,63.75 589.18,58.15" fill="#0000ff"/>
<polygon points="597.25,62.25 603.25,62.25 600.25,56.65" fill="#0000ff"/>
<polygon points="608.32,63.45 614.32,63.45 611.32,57.85" fill="#0000ff"/>
<polygon points="622.95,64.15 628.95,64.15 625.95,58.55" fill="#0000ff"/>
<polygon points="634.02,63.75 640.02,63.75 637.02,58.15" fill="#0000ff"/>
<polygon points="413.40,180.05 419.40,180.05 416.40,185.65" fill="#0000ff"/>
<polygon points="450.17,179.95 456.17,179.95 453.17,185.55" fill="#0000ff"/>
<polygon points="486.94,179.95 492.94,179.95 489.94,185.55" fill="#0000ff"/>
<polygon points="523.71,179.95 529.71,179.95 526.71,185.55" fill="#0000ff"/>
<polygon points="560.48,180.35 566.48,180.35 563.48,185.95" fill="#0000ff"/>
<polygon points="586.18,180.55 592.18,180.55 589.18,186.15" fill="#0000ff"/>
<polygon points="597.25,180.25 603.25,180.25 600.25,185.85" fill="#0000ff"/>
<polygon points="608.32,180.95 614.32,180.95 611.32,186.55" fill="#0000ff"/>
<polygon points="622.95,181.05 628.95,181.05 625.95,186.65" fill="#0000ff"/>
<polygon points="634.02,181.25 640.02,181.25 637.02,186.85" fill="#0000ff"/>
<polygon points="416.40,90.81 417.51,93.58 420.49,93.78 418.20,95.69 418.93,98.59 416.40,97.00 413.87,98.59 414.60,95.69 412.31,93.78 415.29,93.58" fill="#ff8c8c" stroke="#ff0000" stroke-width="1.35" stroke-linejoin="round"/>
<polygon points="453.17,90.41 454.28,93.18 457.26,93.38 454.97,95.29 455.70,98.19 453.17,96.60 450.64,98.19 451.37,95.29 449.08,93.38 452.06,93.18" fill="#ff8c8c" stroke="#ff0000" stroke-width="1.35" stroke-linejoin="round"/>
<polygon points="489.94,90.41 491.05,93.18 494.03,93.38 491.74,95.29 492.47,98.19 489.94,96.60 487.41,98.19 488.14,95.29 485.85,93.38 488.83,93.18" fill="#ff8c8c" stroke="#ff0000" stroke-width="1.35" stroke-linejoin="round"/>
<polygon points="526.71,92.31 527.82,95.08 530.80,95.28 528.51,97.19 529.24,100.09 526.71,98.50 524.18,100.09 524.91,97.19 522.62,95.28 525.60,95.08" fill="#ff8c8c" stroke="#ff0000" stroke-width="1.35" stroke-linejoin="round"/>
<polygon points="563.48,93.11 564.59,95.88 567.57,96.08 565.28,97.99 566.01,100.89 563.48,99.30 560.95,100.89 561.68,97.99 559.39,96.08 562.37,95.88" fill="#ff8c8c" stroke="#ff0000" stroke-width="1.35" stroke-linejoin="round"/>
<polygon points="589.18,90.41 590.29,93.18 593.27,93.38 590.98,95.29 591.71,98.19 589.18,96.60 586.65,98.19 587.38,95.29 585.09,93.38 588.07,93.18" fill="#ff8c8c" stroke="#ff0000" stroke-width="1.35" stroke-linejoin="round"/>
<polygon points="600.25,90.61 601.36,93.38 604.34,93.58 602.05,95.49 602.78,98.39 600.25,96.80 597.72,98.39 598.45,95.49 596.16,93.58 599.14,93.38" fill="#ff8c8c" stroke="#ff0000" stroke-width="1.35" stroke-linejoin="round"/>
<polygon points="611.32,90.61 612.43,93.38 615.41,93.58 613.12,95.49 613.85,98.39 611.32,96.80 608.79,98.39 609.52,95.49 607.23,93.58 610.21,93.38" fill="#ff8c8c" stroke="#ff0000" stroke-width="1.35" stroke-linejoin="round"/>
<polygon points="625.95,90.71 627.06,93.48 630.04,93.68 627.75,95.59 628.48,98.49 625.95,96.90 623.42,98.49 624.15,95.59 621.86,93.68 624.84,93.48" fill="#ff8c8c" stroke="#ff0000" stroke-width="1.35" stroke-linejoin="round"/>
<polygon points="637.02,90.61 638.13,93.38 641.11,93.58 638.82,95.49 639.55,98.39 637.02,96.80 634.49,98.39 635.22,95.49 632.93,93.58 635.91,93.38" fill="#ff8c8c" stroke="#ff0000" stroke-width="1.35" stroke-linejoin="round"/>
<polygon points="416.40,156.71 417.51,159.48 420.49,159.68 418.20,161.59 418.93,164.49 416.40,162.90 413.87,164.49 414.60,161.59 412.31,159.68 415.29,159.48" fill="#ff8c8c" stroke="#ff0000" stroke-width="1.35" stroke-linejoin="round"/>
<polygon points="453.17,156.91 454.28,159.68 457.26,159.88 454.97,161.79 455.70,164.69 453.17,163.10 450.64,164.69 451.37,161.79 449.08,159.88 452.06,159.68" fill="#ff8c8c" stroke="#ff0000" stroke-width="1.35" stroke-linejoin="round"/>
<polygon points="489.94,156.91 491.05,159.68 494.03,159.88 491.74,161.79 492.47,164.69 489.94,163.10 487.41,164.69 488.14,161.79 485.85,159.88 488.83,159.68" fill="#ff8c8c" stroke="#ff0000" stroke-width="1.35" stroke-linejoin="round"/>
<polygon points="526.71,156.61 527.82,159.38 530.80,159.58 528.51,161.49 529.24,164.39 526.71,162.80 524.18,164.39 524.91,161.49 522.62,159.58 525.60,159.38" fill="#ff8c8c" stroke="#ff0000" stroke-width="1.35" stroke-linejoin="round"/>
<polygon points="563.48,156.61 564.59,159.38 567.57,159.58 565.28,161.49 566.01,164.39 563.48,162.80 560.95,164.39 561.68,161.49 559.39,159.58 562.37,159.38" fill="#ff8c8c" stroke="#ff0000" stroke-width="1.35" stroke-linejoin="round"/>
<polygon points="589.18,156.91 590.29,159.68 593.27,159.88 590.98,161.79 591.71,164.69 589.18,163.10 586.65,164.69 587.38,161.79 585.09,159.88 588.07,159.68" fill="#ff8c8c" stroke="#ff0000" stroke-width="1.35" stroke-linejoin="round"/>
<polygon points="600.25,156.41 601.36,159.18 604.34,159.38 602.05,161.29 602.78,164.19 600.25,162.60 597.72,164.19 598.45,161.29 596.16,159.38 599.14,159.18" fill="#ff8c8c" stroke="#ff0000" stroke-width="1.35" stroke-linejoin="round"/>
<polygon points="611.32,156.41 612.43,159.18 615.41,159.38 613.12,161.29 613.85,164.19 611.32,162.60 608.79,164.19 609.52,161.29 607.23,159.38 610.21,159.18" fill="#ff8c8c" stroke="#ff0000" stroke-width="1.35" stroke-linejoin="round"/>
<polygon points="625.95,157.41 627.06,160.18 630.04,160.38 627.75,162.29 628.48,165.19 625.95,163.60 623.42,165.19 624.15,162.29 621.86,160.38 624.84,160.18" fill="#ff8c8c" stroke="#ff0000" stroke-width="1.35" stroke-linejoin="round"/>
<polygon points="637.02,156.61 638.13,159.38 641.11,159.58 638.82,161.49 639.55,164.39 637.02,162.80 634.49,164.39 635.22,161.49 632.93,159.58 635.91,159.38" fill="#ff8c8c" stroke="#ff0000" stroke-width="1.35" stroke-linejoin="round"/>
<line x1="405.40" y1="27.45" x2="432.60" y2="27.45" stroke="#0000ff" stroke-width="1.15"/>
<polygon points="416.10,28.95 422.10,28.95 419.10,23.35" fill="#0000ff"/>
<line x1="405.40" y1="42.00" x2="432.60" y2="42.00" stroke="#0000ff" stroke-width="1.15"/>
<polygon points="416.10,39.85 422.10,39.85 419.10,45.45" fill="#0000ff"/>
<text x="436.10" y="31.60" font-size="12" text-anchor="start" >higt G</text>
<text x="436.10" y="46.00" font-size="12" text-anchor="start" >low G</text>
<line x1="597.10" y1="27.30" x2="605.00" y2="27.30" stroke="#ff0000" stroke-width="1.2"/>
<line x1="616.00" y1="27.30" x2="623.80" y2="27.30" stroke="#ff0000" stroke-width="1.2"/>
<polygon points="610.50,23.51 611.61,26.28 614.59,26.48 612.30,28.39 613.03,31.29 610.50,29.70 607.97,31.29 608.70,28.39 606.41,26.48 609.39,26.28" fill="#ff8c8c" stroke="#ff0000" stroke-width="1.35" stroke-linejoin="round"/>
<line x1="597.10" y1="44.80" x2="605.00" y2="44.80" stroke="#ff0000" stroke-width="1.2"/>
<line x1="616.00" y1="44.80" x2="623.80" y2="44.80" stroke="#ff0000" stroke-width="1.2"/>
<polygon points="610.50,40.61 611.61,43.38 614.59,43.58 612.30,45.49 613.03,48.39 610.50,46.80 607.97,48.39 608.70,45.49 606.41,43.58 609.39,43.38" fill="#ff8c8c" stroke="#ff0000" stroke-width="1.35" stroke-linejoin="round"/>
<text x="627.1" y="32.4" font-size="12">-V<tspan font-size="9" dy="2.4">C</tspan></text>
<text x="630.9" y="49.4" font-size="12">V<tspan font-size="9" dy="2.4">C</tspan></text>
<path d="M515 0L515 1237L197 1010L197 1180L530 1409L696 1409L696 0Z" transform="translate(74.71,229.20) scale(0.005859,-0.005859)" fill="#000" stroke="#000" stroke-width="37.5"/>
<path d="M515 0L515 1237L197 1010L197 1180L530 1409L696 1409L696 0Z" transform="translate(133.62,229.20) scale(0.005859,-0.005859)" fill="#000" stroke="#000" stroke-width="37.5"/>
<path d="M515 0L515 1237L197 1010L197 1180L530 1409L696 1409L696 0Z" transform="translate(25.57,141.44) scale(0.005859,-0.005859)" fill="#000" stroke="#000" stroke-width="37.5"/>
<path d="M515 0L515 1237L197 1010L197 1180L530 1409L696 1409L696 0Z" transform="translate(25.57,102.46) scale(0.005859,-0.005859)" fill="#000" stroke="#000" stroke-width="37.5"/>
<path d="M515 0L515 1237L197 1010L197 1180L530 1409L696 1409L696 0Z" transform="translate(25.57,63.48) scale(0.005859,-0.005859)" fill="#000" stroke="#000" stroke-width="37.5"/>
<path d="M515 0L515 1237L197 1010L197 1180L530 1409L696 1409L696 0Z" transform="translate(25.57,23.50) scale(0.005859,-0.005859)" fill="#000" stroke="#000" stroke-width="37.5"/>
<path d="M515 0L515 1237L197 1010L197 1180L530 1409L696 1409L696 0Z" transform="translate(249.71,229.20) scale(0.005859,-0.005859)" fill="#000" stroke="#000" stroke-width="37.5"/>
<path d="M515 0L515 1237L197 1010L197 1180L530 1409L696 1409L696 0Z" transform="translate(307.92,229.20) scale(0.005859,-0.005859)" fill="#000" stroke="#000" stroke-width="37.5"/>
<path d="M515 0L515 1237L197 1010L197 1180L530 1409L696 1409L696 0Z" transform="translate(655.98,170.68) scale(0.005859,-0.005859)" fill="#000" stroke="#000" stroke-width="37.5"/>
<path d="M515 0L515 1237L197 1010L197 1180L530 1409L696 1409L696 0Z" transform="translate(652.00,73.22) scale(0.005859,-0.005859)" fill="#000" stroke="#000" stroke-width="37.5"/>
<path d="M515 0L515 1237L197 1010L197 1180L530 1409L696 1409L696 0Z" transform="translate(407.35,230.70) scale(0.005859,-0.005859)" fill="#000" stroke="#000" stroke-width="37.5"/>
<path d="M515 0L515 1237L197 1010L197 1180L530 1409L696 1409L696 0Z" transform="translate(444.12,230.70) scale(0.005859,-0.005859)" fill="#000" stroke="#000" stroke-width="37.5"/>
<path d="M515 0L515 1237L197 1010L197 1180L530 1409L696 1409L696 0Z" transform="translate(480.89,230.70) scale(0.005859,-0.005859)" fill="#000" stroke="#000" stroke-width="37.5"/>
<path d="M515 0L515 1237L197 1010L197 1180L530 1409L696 1409L696 0Z" transform="translate(517.66,230.70) scale(0.005859,-0.005859)" fill="#000" stroke="#000" stroke-width="37.5"/>
<path d="M515 0L515 1237L197 1010L197 1180L530 1409L696 1409L696 0Z" transform="translate(554.43,230.70) scale(0.005859,-0.005859)" fill="#000" stroke="#000" stroke-width="37.5"/>
<path d="M515 0L515 1237L197 1010L197 1180L530 1409L696 1409L696 0Z" transform="translate(591.20,230.70) scale(0.005859,-0.005859)" fill="#000" stroke="#000" stroke-width="37.5"/>
<path d="M515 0L515 1237L197 1010L197 1180L530 1409L696 1409L696 0Z" transform="translate(625.61,230.70) scale(0.005859,-0.005859)" fill="#000" stroke="#000" stroke-width="37.5"/>
<path d="M515 0L515 1237L197 1010L197 1180L530 1409L696 1409L696 0Z" transform="translate(638.97,225.70) scale(0.004150,-0.004150)" fill="#000" stroke="#000" stroke-width="53.0"/>
<path d="M515 0L515 1237L197 1010L197 1180L530 1409L696 1409L696 0Z" transform="translate(118.50,187.20) scale(0.005859,-0.005859)" fill="#000" stroke="#000" stroke-width="37.5"/>
<path d="M515 0L515 1237L197 1010L197 1180L530 1409L696 1409L696 0Z" transform="translate(76.10,32.10) scale(0.004883,-0.004883)" fill="#000" stroke="#000" stroke-width="45.1"/>
<path d="M515 0L515 1237L197 1010L197 1180L530 1409L696 1409L696 0Z" transform="translate(76.10,44.50) scale(0.004883,-0.004883)" fill="#000" stroke="#000" stroke-width="45.1"/>
<path d="M515 0L515 1237L197 1010L197 1180L530 1409L696 1409L696 0Z" transform="translate(76.10,56.90) scale(0.004883,-0.004883)" fill="#000" stroke="#000" stroke-width="45.1"/>
<path d="M515 0L515 1237L197 1010L197 1180L530 1409L696 1409L696 0Z" transform="translate(76.10,69.30) scale(0.004883,-0.004883)" fill="#000" stroke="#000" stroke-width="45.1"/>
<path d="M515 0L515 1237L197 1010L197 1180L530 1409L696 1409L696 0Z" transform="translate(76.10,81.70) scale(0.004883,-0.004883)" fill="#000" stroke="#000" stroke-width="45.1"/>
<path d="M515 0L515 1237L197 1010L197 1180L530 1409L696 1409L696 0Z" transform="translate(76.10,94.10) scale(0.004883,-0.004883)" fill="#000" stroke="#000" stroke-width="45.1"/>
<path d="M515 0L515 1237L197 1010L197 1180L530 1409L696 1409L696 0Z" transform="translate(76.10,118.90) scale(0.004883,-0.004883)" fill="#000" stroke="#000" stroke-width="45.1"/>
<path d="M515 0L515 1237L197 1010L197 1180L530 1409L696 1409L696 0Z" transform="translate(88.32,118.90) scale(0.004883,-0.004883)" fill="#000" stroke="#000" stroke-width="45.1"/>
</svg>
</body></html>
